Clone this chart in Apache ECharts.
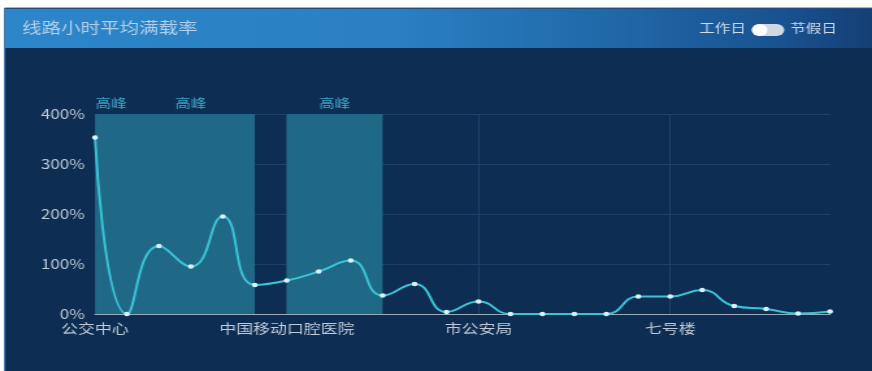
<!DOCTYPE html>
<html>
<head>
<meta charset="utf-8">
<script src="https://cdn.jsdelivr.net/npm/echarts@6/dist/echarts.min.js"></script>
<style>
  html, body { margin: 0; padding: 0; background: #ffffff; overflow: hidden; }
  /* the panel is laid out narrow and widened horizontally to fill 872px */
  #chart { width: 671px; height: 371px; transform: scaleX(1.2996); transform-origin: 0 0; }
</style>
</head>
<body>
<div id="chart"></div>
<script>
// stops along the route (only every sixth one carries a label)
const categories = ['公交中心', '', ' ', '  ', '   ', '    ',
  '中国移动口腔医院', '     ', '      ', '       ', '        ', '         ',
  '市公安局', '          ', '           ', '            ', '             ', '              ',
  '七号楼', '               ', '                ', '                 ', '                  ', '                   '];
// average load factor per stop, %
const loadRate = [353, 0, 136, 95, 195, 58, 67, 85, 107, 37, 60, 4,
  25, 0, 0, 0, 0, 35, 35, 48, 16, 10, 1, 5];
// shaded peak blocks, as [start index, end index]
const peakBlocks = [[0, 5], [6, 9]];
// peak labels, each centred over its [start, end] span
const peakLabelSpans = [[0, 1], [1, 5], [6, 9]];
const peakLabel = '高峰';
const yTicks = [0, 100, 200, 300, 400];

const chart = echarts.init(document.getElementById('chart'));

const blockAreas = peakBlocks.map(r => [{ xAxis: r[0] }, { xAxis: r[1] }]);
const labelAreas = peakLabelSpans.map(r => [
  { xAxis: r[0], name: peakLabel, itemStyle: { color: 'rgba(0,0,0,0)' } },
  { xAxis: r[1] }
]);

chart.setOption({
  backgroundColor: '#ffffff',
  graphic: [
    { type: 'rect', z: -10, shape: { x: 3.6, y: 8, width: 670, height: 364 },
      style: { fill: '#0d2d52', stroke: '#3a6fa6', lineWidth: 1 } },
    { type: 'rect', z: -9, shape: { x: 4, y: 9, width: 668, height: 39 },
      style: { fill: new echarts.graphic.LinearGradient(0, 0, 1, 0, [
        { offset: 0, color: '#2c86c9' },
        { offset: 0.45, color: '#2a80c2' },
        { offset: 0.7, color: '#2068a8' },
        { offset: 0.9, color: '#1a5190' },
        { offset: 1, color: '#133f74' }
      ]) } },
    { type: 'text', left: 17, top: 20,
      style: { text: '线路小时平均满载率', fill: '#b4cfea', font: '15px "Noto Sans CJK SC"' } },
    { type: 'text', left: 538, top: 22,
      style: { text: '工作日', fill: '#cddbea', font: '12px "Noto Sans CJK SC"' } },
    { type: 'rect', shape: { x: 578.5, y: 24, width: 25, height: 12, r: 6 },
      style: { fill: '#d0d8e2' } },
    { type: 'circle', shape: { cx: 584.5, cy: 30, r: 6 },
      style: { fill: '#ffffff' } },
    { type: 'text', left: 608, top: 22,
      style: { text: '节假日', fill: '#cddbea', font: '12px "Noto Sans CJK SC"' } }
  ],
  grid: { left: 73.1, right: 32.3, top: 114, bottom: 57 },
  xAxis: {
    type: 'category',
    data: categories,
    boundaryGap: false,
    axisLine: { lineStyle: { color: '#9aa9ba', width: 1 } },
    axisTick: { show: false },
    axisLabel: {
      interval: 5, color: '#c0cbd8', fontSize: 13, margin: 8,
      fontFamily: 'Noto Sans CJK SC'
    },
    splitLine: { show: true, interval: 5, lineStyle: { color: '#1d4268', width: 1 } }
  },
  yAxis: {
    type: 'value',
    min: yTicks[0], max: yTicks[yTicks.length - 1], interval: 100,
    axisLine: { show: false },
    axisTick: { show: false },
    axisLabel: {
      formatter: '{value}%', color: '#c0cbd8', fontSize: 13, margin: 8,
      fontFamily: 'Noto Sans CJK SC'
    },
    splitLine: { lineStyle: { color: '#1d4268', width: 1 } }
  },
  series: [{
    type: 'line',
    data: loadRate,
    smooth: true,
    symbol: 'circle',
    symbolSize: 4.5,
    itemStyle: { color: '#d8f3f8' },
    lineStyle: { color: '#3ac3d5', width: 2 },
    z: 5,
    markArea: {
      silent: true,
      itemStyle: { color: '#1f6886' },
      label: {
        show: true, position: 'top', distance: 5,
        color: '#3fa7c7', fontSize: 12, fontFamily: 'Noto Sans CJK SC'
      },
      data: blockAreas.concat(labelAreas)
    }
  }]
});
</script>
</body>
</html>
